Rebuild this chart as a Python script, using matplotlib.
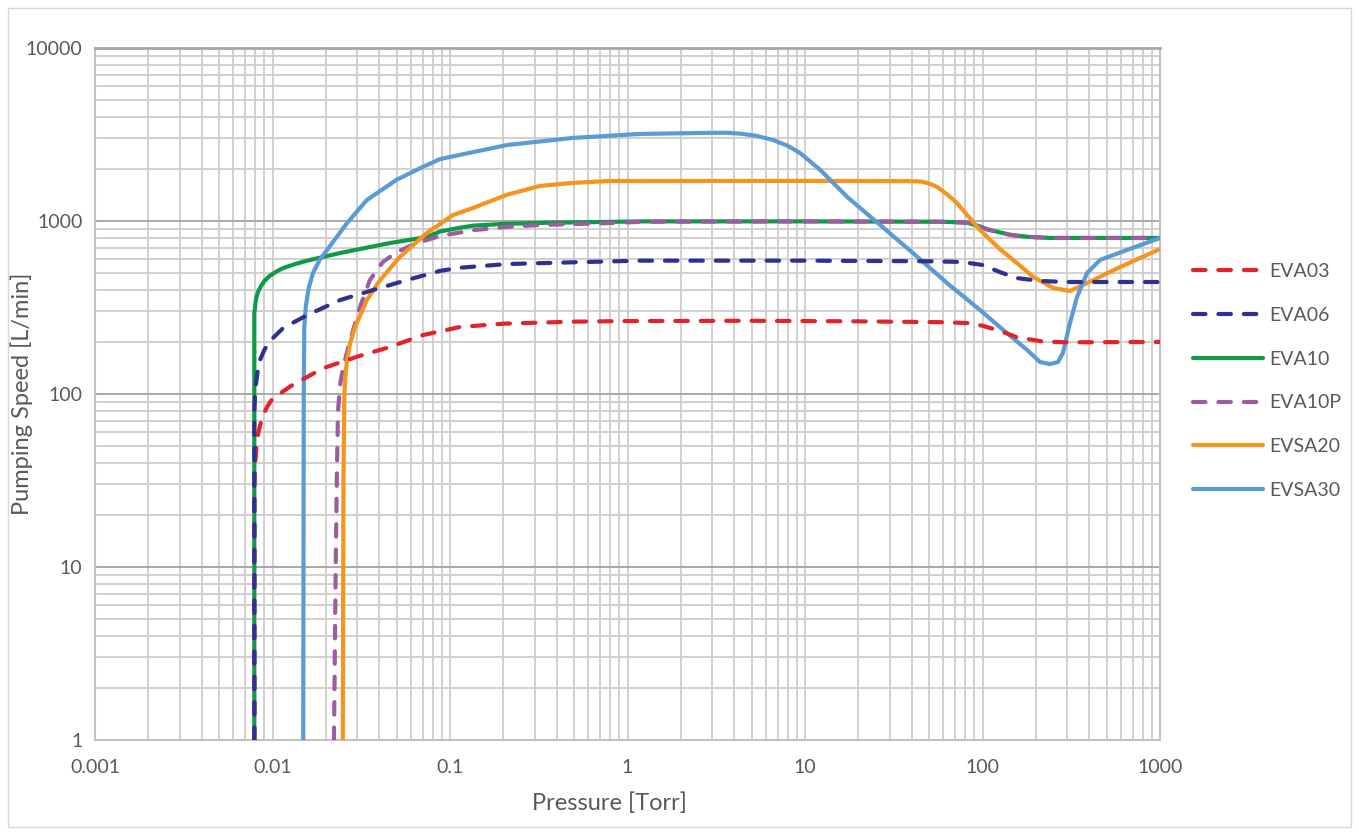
import numpy as np
import matplotlib
matplotlib.use("Agg")
import matplotlib.pyplot as plt
from matplotlib.ticker import LogLocator, FixedLocator, FixedFormatter, NullFormatter
from matplotlib.patches import Rectangle

plt.rcParams['font.family'] = ['Lato', 'DejaVu Sans']

# ---------------- data ----------------
x_ticks = [0.001, 0.01, 0.1, 1, 10, 100, 1000]
x_tick_labels = ["0.001", "0.01", "0.1", "1", "10", "100", "1000"]
y_ticks = [1, 10, 100, 1000, 10000]
y_tick_labels = ["1", "10", "100", "1000", "10000"]

eva03_p = [0.0079, 0.0079, 0.0080, 0.0081, 0.0083, 0.0087, 0.0093, 0.0100, 0.0130, 0.0193,
           0.0298, 0.0459, 0.0703, 0.114, 0.2, 0.5, 1, 5, 20, 60, 82, 100, 125, 156, 219,
           300, 1000]
eva03_s = [1, 30, 40, 48, 59, 72, 84, 94, 113, 141,
           164, 187, 219, 244, 255, 262, 264, 265, 263, 260, 257, 248, 232, 213, 201,
           199, 200]

eva06_p = [0.0079, 0.0079, 0.0080, 0.0082, 0.0085, 0.0090, 0.0097, 0.0115, 0.0157, 0.024,
           0.0368, 0.0573, 0.088, 0.114, 0.21, 0.49, 1.18, 10, 50, 76, 100, 125, 156, 211,
           300, 1000]
eva06_s = [1, 80, 105, 130, 157, 180, 203, 241, 286, 349,
           399, 456, 515, 537, 564, 577, 590, 590, 585, 580, 557, 507, 468, 450,
           444, 444]

eva10_p = [0.0079, 0.0079, 0.0080, 0.0081, 0.0083, 0.0086, 0.0090, 0.0096, 0.0105, 0.0115,
           0.0135, 0.0157, 0.024, 0.046, 0.074, 0.088, 0.114, 0.135, 0.2, 0.32, 0.77, 1.2,
           10, 60, 82, 97, 106, 125, 143, 180, 240, 1000]
eva10_s = [1, 290, 330, 360, 390, 420, 450, 480, 510, 535,
           565, 590, 653, 746, 808, 870, 915, 940, 962, 975, 988, 995,
           995, 990, 978, 930, 895, 860, 832, 810, 798, 798]

eva10p_p = [0.0222, 0.0227, 0.0231, 0.0234, 0.0241, 0.0250, 0.0274, 0.0311, 0.0354, 0.0419,
            0.0502, 0.0651, 0.088, 0.135, 0.21, 0.32, 0.77, 1.2, 10, 60, 82, 97, 106, 125,
            143, 180, 240, 1000]
eva10p_s = [1, 10, 40, 80, 115, 143, 205, 318, 456, 580,
            662, 746, 820, 885, 925, 948, 972, 990, 995, 990, 978, 930, 895, 860,
            832, 810, 798, 798]

evsa20_p = [0.0249, 0.0251, 0.0254, 0.0258, 0.0263, 0.0275, 0.0292, 0.034, 0.0404, 0.0522,
            0.0742, 0.104, 0.135, 0.21, 0.32, 0.49, 0.77, 10, 38, 45, 50, 55.5, 63, 71.8,
            96.8, 125, 160, 193, 250, 311, 388, 596, 1000]
evsa20_s = [1, 30, 100, 130, 157, 200, 244, 349, 456, 620,
            853, 1083, 1190, 1420, 1593, 1660, 1702, 1705, 1700, 1690, 1650, 1573, 1430, 1270,
            887, 690, 560, 475, 410, 394, 438, 542, 689]

evsa30_p = [0.0149, 0.0150, 0.0151, 0.0154, 0.0160, 0.0169, 0.0185, 0.0203, 0.0263, 0.034,
            0.05, 0.07, 0.088, 0.21, 0.49, 1.18, 2.8, 3.6, 4.3, 5.3, 6.6, 8.0, 9.37, 12.2,
            17.3, 26.5, 40.6, 63.1, 96.8, 125, 178, 211, 240, 266, 284, 311, 341, 388, 459,
            651, 1000]
evsa30_s = [1, 100, 240, 320, 410, 500, 600, 680, 973, 1322,
            1730, 2050, 2282, 2750, 3020, 3186, 3230, 3235, 3200, 3110, 2940, 2720, 2473, 1973,
            1376, 948, 653, 438, 306, 244, 180, 153, 149, 153, 173, 257, 364, 500, 595,
            680, 798]

series = [
    # name, p, s, color, dashed, zorder
    ("EVA03", eva03_p, eva03_s, "#E3232A", True, 6),
    ("EVA06", eva06_p, eva06_s, "#2E3192", True, 7),
    ("EVA10", eva10_p, eva10_s, "#0E9A48", False, 2),
    ("EVA10P", eva10p_p, eva10p_s, "#9A5DA0", True, 3),
    ("EVSA20", evsa20_p, evsa20_s, "#F7941D", False, 4),
    ("EVSA30", evsa30_p, evsa30_s, "#5B9BD5", False, 5),
]

# ---------------- figure ----------------
W, H = 1359, 835
fig = plt.figure(figsize=(W / 100, H / 100), dpi=100)
fig.patch.set_facecolor("white")
fig.patches.append(Rectangle((8 / W, 8 / H), (1351 - 8) / W, (827 - 8) / H,
                             transform=fig.transFigure, fill=False,
                             ec="#d9d9d9", lw=1.0, zorder=0))

L, R, T, B = 95, 1160, 48, 740
ax = fig.add_axes([L / W, 1 - B / H, (R - L) / W, (B - T) / H])
ax.set_xscale("log")
ax.set_yscale("log")
ax.set_xlim(0.001, 1000)
ax.set_ylim(1, 10000)

lw = 3.0
for name, p, s, c, dashed, z in series:
    ln, = ax.plot(p, s, color=c, lw=lw, label=name, zorder=z,
                  solid_capstyle="round", solid_joinstyle="round")
    if dashed:
        ln.set_dashes((3.0, 3.1))
        ln.set_dash_capstyle("round")

# grid
ax.xaxis.set_major_locator(FixedLocator(x_ticks))
ax.xaxis.set_major_formatter(FixedFormatter(x_tick_labels))
ax.yaxis.set_major_locator(FixedLocator(y_ticks))
ax.yaxis.set_major_formatter(FixedFormatter(y_tick_labels))
ax.xaxis.set_minor_locator(LogLocator(base=10, subs=np.arange(2, 10), numticks=100))
ax.yaxis.set_minor_locator(LogLocator(base=10, subs=np.arange(2, 10), numticks=100))
ax.xaxis.set_minor_formatter(NullFormatter())
ax.yaxis.set_minor_formatter(NullFormatter())

ax.grid(which="major", axis="x", color="#cfcbcb", lw=1.3, zorder=0)
ax.grid(which="minor", axis="x", color="#cfcbcb", lw=1.3, zorder=0)
ax.grid(which="major", axis="y", color="#a8a8a8", lw=1.4, zorder=0)
ax.grid(which="minor", axis="y", color="#cfcbcb", lw=1.3, zorder=0)
ax.set_axisbelow(True)

for side in ["left", "right", "bottom"]:
    ax.spines[side].set_color("#c4c0c0")
    ax.spines[side].set_linewidth(1.5)
ax.spines["top"].set_color("#a8a8a8")
ax.spines["top"].set_linewidth(2.0)

txt = "#595959"
ax.tick_params(which="both", length=0, labelsize=14, labelcolor=txt)
ax.tick_params(axis="x", pad=14)
ax.tick_params(axis="y", pad=9)

ax.set_xlabel("Pressure [Torr]", fontsize=17, color=txt, va="center")
ax.xaxis.set_label_coords((609 - L) / (R - L), (B - 803) / (B - T))
ax.set_ylabel("Pumping Speed [L/min]", fontsize=17, color=txt, va="center")
ax.yaxis.set_label_coords((22 - L) / (R - L), (B - 394) / (B - T))

leg = ax.legend(loc="center left", bbox_to_anchor=(1193 / W, 1 - 381 / H),
                bbox_transform=fig.transFigure, frameon=False, fontsize=14,
                handlelength=3.6, handletextpad=0.3, labelspacing=1.38,
                borderpad=0, borderaxespad=0)
for t in leg.get_texts():
    t.set_color(txt)

fig.savefig("out.png", dpi=100)
